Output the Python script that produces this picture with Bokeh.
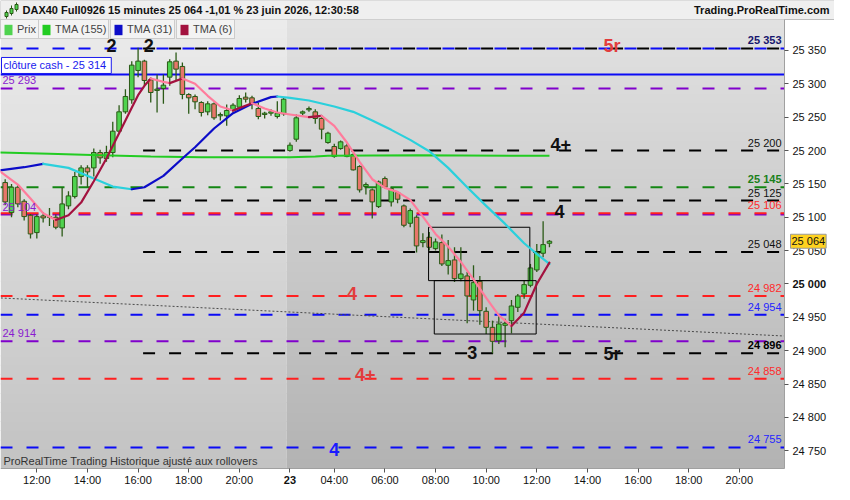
import numpy as np
from bokeh.plotting import figure
from bokeh.models import (ColumnDataSource, Range1d, FixedTicker, Label, Legend,
                          LegendItem, BoxAnnotation, LinearAxis)
from bokeh.core.properties import value
from bokeh.embed import file_html
from bokeh.resources import INLINE

#textes de l'entete et du bas
titre = "DAX40 Full0926 15 minutes 25 064 -1,01 % 23 juin 2026, 12:30:58"
site = "Trading.ProRealTime.com"
note_bas = "ProRealTime Trading  Historique ajusté aux rollovers"
legende_noms = ["Prix", "TMA (155)", "TMA (31)", "TMA (6)"]

#bougies 15 minutes, indice 0 = 22 juin 12:00
barres = list(range(-5, 82))
ouv = [25152, 25107, 25145, 25124, 25103, 25077, 25102, 25101, 25100, 25084,
       25117, 25131, 25161, 25174, 25174, 25197, 25188, 25197, 25229, 25258,
       25276, 25320, 25334, 25306, 25290, 25293, 25310, 25334, 25326, 25284,
       25281, 25272, 25258, 25270, 25252, 25252, 25260, 25265, 25280, 25279,
       25263, 25254, 25256, 25251, 25255, 25200, 25217, 25256, 25261, 25258,
       25248, 25212, 25206, 25203, 25207, 25194, 25176, 25146, 25141, 25116,
       25158, 25123, 25137, 25117, 25091, 25100, 25062, 25070, 25053, 25062,
       25028, 25036, 25008, 25012, 24976, 25004, 24959, 24935, 24915, 24938,
       24945, 24965, 24985, 24998, 25021, 25046, 25061]
haut = [25157, 25150, 25148, 25127, 25105, 25104, 25108, 25114, 25104, 25145,
        25139, 25168, 25178, 25178, 25203, 25201, 25207, 25243, 25268, 25292,
        25334, 25354, 25336, 25309, 25314, 25314, 25337, 25347, 25332, 25286,
        25284, 25274, 25274, 25272, 25257, 25269, 25271, 25283, 25287, 25282,
        25272, 25258, 25262, 25274, 25279, 25212, 25254, 25260, 25266, 25262,
        25250, 25228, 25210, 25215, 25210, 25196, 25178, 25152, 25143, 25155,
        25161, 25145, 25139, 25119, 25113, 25103, 25076, 25078, 25068, 25074,
        25066, 25055, 25055, 25018, 25028, 25012, 24965, 24945, 24954, 24948,
        24976, 24985, 25005, 25030, 25060, 25094, 25066]
bas = [25118, 25100, 25115, 25095, 25068, 25068, 25092, 25087, 25082, 25071,
       25112, 25128, 25149, 25145, 25161, 25180, 25183, 25190, 25226, 25255,
       25270, 25310, 25298, 25272, 25257, 25270, 25297, 25305, 25277, 25255,
       25262, 25251, 25253, 25246, 25245, 25237, 25257, 25262, 25272, 25262,
       25247, 25248, 25252, 25248, 25252, 25198, 25213, 25253, 25258, 25240,
       25217, 25210, 25189, 25201, 25190, 25170, 25137, 25134, 25098, 25114,
       25143, 25116, 25121, 25085, 25085, 25047, 25055, 25050, 25050, 25027,
       25014, 25003, 25004, 24941, 24960, 24939, 24925, 24896, 24910, 24905,
       24926, 24958, 24978, 24995, 25018, 25040, 25055]
clot = [25123, 25145, 25120, 25101, 25075, 25101, 25099, 25100, 25085, 25120,
        25132, 25161, 25174, 25168, 25197, 25189, 25197, 25229, 25258, 25281,
        25328, 25334, 25305, 25287, 25292, 25298, 25333, 25322, 25284, 25279,
        25273, 25257, 25270, 25249, 25254, 25260, 25268, 25278, 25277, 25270,
        25251, 25256, 25258, 25256, 25277, 25208, 25249, 25258, 25263, 25248,
        25232, 25226, 25191, 25213, 25191, 25171, 25141, 25149, 25123, 25153,
        25145, 25143, 25127, 25088, 25110, 25057, 25065, 25055, 25063, 25030,
        25035, 25008, 25015, 24982, 25002, 24960, 24935, 24914, 24940, 24941,
        24967, 24982, 24999, 25024, 25047, 25059, 25064]

#axe du temps (seance du 23 a partir de l'indice 40)
ticks_barres = [0, 8, 16, 24, 32, 40, 47, 55, 63, 71, 79, 87, 95, 103, 111]
ticks_textes = ["12:00", "14:00", "16:00", "18:00", "20:00", "23", "04:00", "06:00",
                "08:00", "10:00", "12:00", "14:00", "16:00", "18:00", "20:00"]
separation_jour = 39.5
ticks_prix = [24750, 24800, 24850, 24900, 24950, 25000, 25050, 25100, 25150,
              25200, 25250, 25300, 25350]
prix_actuel = 25064

#moyennes mobiles
tma155_x = [-6, 2, 10, 18, 26, 40, 44, 46, 60, 81]
tma155_y = [25197, 25195, 25193, 25191, 25190, 25190, 25191, 25192, 25193, 25192]
tma31_x = [-6, -2, 1, 5, 9, 12, 15, 17, 20, 23, 25, 28, 31, 34, 37, 38, 40, 43, 47,
           50, 53, 56, 59, 62, 65, 68, 71, 74, 77, 79, 81]
tma31_y = [25170, 25175, 25180, 25174, 25158, 25146, 25142, 25145, 25162, 25188,
           25205, 25233, 25256, 25270, 25280, 25281, 25279, 25275, 25266, 25258,
           25245, 25231, 25216, 25199, 25174, 25145, 25117, 25090, 25061, 25045, 25030]
tma6_x = [-6, -3, -1, 1, 3, 5, 7, 9, 11, 13, 15, 16, 17, 18, 20, 21, 23, 25, 27, 29,
          31, 34, 36, 38, 40, 43, 45, 47, 49, 51, 53, 55, 57, 59, 61, 63, 65, 67, 69,
          71, 73, 75, 77, 79, 81]
tma6_y = [25170, 25149, 25128, 25106, 25096, 25103, 25122, 25154, 25188, 25226,
          25264, 25283, 25297, 25308, 25303, 25301, 25308, 25300, 25282, 25266,
          25260, 25271, 25263, 25257, 25254, 25250, 25252, 25237, 25212, 25183,
          25157, 25144, 25138, 25126, 25101, 25075, 25056, 25033, 25007, 24979,
          24953, 24937, 24957, 25000, 25032]

#niveaux horizontaux
niveaux_pleins = [25353, 25293, 25145, 25104, 25106, 24982, 24954, 24914, 24858, 24755]
couleurs_pleins = ["#0b0bf5", "#8000cc", "#138613", "#8000cc", "#ff1f1f", "#ff1f1f",
                   "#0b0bf5", "#8000cc", "#ff1f1f", "#0b0bf5"]
niveaux_noirs = [25353, 25200, 25125, 25048, 24896]
debut_noirs = 16
cloture_cash = 25314

etiq_droite = ["25 353", "25 200", "25 145", "25 125", "25 106", "25 048",
               "24 982", "24 954", "24 896", "24 858", "24 755"]
prix_droite = [25353, 25200, 25145, 25125, 25106, 25048, 24982, 24954, 24896, 24858, 24755]
coul_droite = ["#16166e", "#111111", "#1a801a", "#111111", "#ff2a2a", "#111111",
               "#ff2a2a", "#2424ff", "#000000", "#ff2a2a", "#2424ff"]
gras_droite = [True, False, True, False, False, False, False, False, True, False, False]
etiq_gauche = ["25 293", "25 104", "24 914"]
prix_gauche = [25293, 25104, 24914]

#reperes de vagues
vagues_txt = ["2", "2", "5r", "4+", "4", "4", "3", "5r", "4+", "4"]
vagues_x = [11.8, 17.7, 90.9, 82.8, 82.6, 49.8, 68.8, 90.9, 51.9, 47.0]
vagues_y = [25358, 25358, 25357, 25209, 25109, 24985, 24898, 24895, 24864, 24752]
vagues_coul = ["#111111", "#111111", "#e23c3c", "#111111", "#111111", "#e23c3c",
               "#111111", "#111111", "#e23c3c", "#1a1aff"]

#rectangles et ligne de tendance
rect_gauche = [61.9, 62.8]
rect_droite = [77.9, 78.9]
rect_bas = [25005, 24925]
rect_haut = [25085, 25005]
tendance_x = [-5.7, 118.1]
tendance_y = [24979, 24922]

#mise en page (pixels) : entete, zone des cours, axe du bas, axe de droite
FONT = "Liberation Sans"
W, H = 834, 484
H_ENTETE, H_AXE_BAS, W_AXE = 19, 16, 50
PW, PH = W - W_AXE, H - H_ENTETE - H_AXE_BAS
x_debut, x_fin = -5.74, 118.14
y_bas, y_haut = 24723.4, 25396.4
px_x = PW / (x_fin - x_debut)
px_y = PH / (y_haut - y_bas)

#une seule figure qui couvre tout, les axes sont poses a l'interieur
p = figure(width=W, height=H, output_backend="svg", toolbar_location=None,
           x_range=Range1d(x_debut, x_debut + W / px_x),
           y_range=Range1d(y_bas - H_AXE_BAS / px_y, y_haut + H_ENTETE / px_y),
           x_axis_location=None, y_axis_location=None, min_border=0)
p.title.visible = False
p.outline_line_color = None
p.background_fill_color = "white"
p.border_fill_color = "white"
p.grid.visible = False

#petite boite en unites ecran (depuis le bas de la figure)
def boite(x0, x1, y0, y1, couleur, contour=None):
    p.add_layout(BoxAnnotation(left=x0, right=x1, bottom=H - y1, top=H - y0,
                               left_units="screen", right_units="screen",
                               bottom_units="screen", top_units="screen",
                               fill_color=couleur, fill_alpha=1,
                               line_color=contour, line_alpha=1 if contour else 0,
                               line_width=1))

#bandeau d'entete
p.add_layout(BoxAnnotation(bottom=y_haut, fill_color="#efefef", fill_alpha=1,
                           line_color="#bdbdbd", line_alpha=1, line_width=1, level="underlay"))
for cx, m0, m1, c0, c1 in [(6, 10, 18, 12, 16), (11, 5, 15, 8, 13), (16, 2, 11, 4, 9)]:
    boite(cx - 0.5, cx + 0.5, m0, m1, "#2b5a17")
    boite(cx - 1.5, cx + 1.5, c0, c1, "#4fd34f", "#2b5a17")
p.add_layout(Label(x=22, y=H - H_ENTETE / 2, x_units="screen", y_units="screen", text=titre,
                   text_baseline="middle", text_font=FONT, text_font_style="bold",
                   text_font_size="11px", text_color="#111111"))
p.add_layout(Label(x=W - 5, y=H - H_ENTETE / 2, x_units="screen", y_units="screen", text=site,
                   text_align="right", text_baseline="middle", text_font=FONT,
                   text_font_style="bold", text_font_size="11px", text_color="#111111"))

#fond en degrade, plus clair pour la seance du 22
n = 48
h = (y_haut - y_bas) / n
for k in range(n):
    t = (k + 0.5) / n
    g1 = int(195 + (236 - 195) * t)
    g2 = int(179 + (226 - 179) * t)
    b0 = y_bas + k * h
    b1 = min(b0 + h * 1.08, y_haut)
    p.add_layout(BoxAnnotation(left=x_debut, right=separation_jour, bottom=b0, top=b1,
                               fill_color="#%02x%02x%02x" % (g1, g1, g1), fill_alpha=1,
                               line_alpha=0, level="underlay"))
    p.add_layout(BoxAnnotation(left=separation_jour, right=x_fin, bottom=b0, top=b1,
                               fill_color="#%02x%02x%02x" % (g2, g2, g2), fill_alpha=1,
                               line_alpha=0, level="underlay"))

#niveaux en pointilles
nb = len(niveaux_pleins)
p.segment(x0=[x_debut] * nb, y0=niveaux_pleins, x1=[x_fin] * nb, y1=niveaux_pleins,
          line_color=couleurs_pleins, line_width=2, line_dash="12 14")
p.segment(x0=[x_debut], y0=[cloture_cash], x1=[x_fin], y1=[cloture_cash],
          line_color="#0b0bf5", line_width=2)
px0 = (debut_noirs - x_debut) * px_x
decal = int(round((26 - (13 - px0) % 26) % 26))
nn = len(niveaux_noirs)
p.segment(x0=[debut_noirs] * nn, y0=niveaux_noirs, x1=[x_fin] * nn, y1=niveaux_noirs,
          line_color="black", line_width=2, line_dash="12 14", line_dash_offset=decal)

#ligne de tendance
p.line(tendance_x, tendance_y, line_color="#4a4a4a", line_width=1, line_dash="2 2")

#bougies
src = ColumnDataSource(dict(
    x=barres, o=ouv, h=haut, l=bas, c=clot,
    corps_haut=[max(a, b) for a, b in zip(ouv, clot)],
    corps_bas=[min(a, b) for a, b in zip(ouv, clot)],
    couleur=["#4fd34f" if b >= a else "#e8766a" for a, b in zip(ouv, clot)]))
p.segment(x0="x", y0="l", x1="x", y1="h", source=src, line_color="#2b5a17", line_width=1.3)
p.vbar(x="x", width=0.72, top="corps_haut", bottom="corps_bas", source=src,
       fill_color="couleur", line_color="#2b5a17", line_width=1)

#rectangles
p.quad(left=rect_gauche, right=rect_droite, bottom=rect_bas, top=rect_haut,
       fill_alpha=0, line_color="black", line_width=1)

#moyennes mobiles, couleur selon la pente
def troncons(xs, ys, c_hausse, c_baisse):
    lx, ly, lc = [], [], []
    for k in range(len(xs) - 1):
        c = c_hausse if ys[k + 1] >= ys[k] else c_baisse
        if lc and lc[-1] == c:
            lx[-1].append(xs[k + 1])
            ly[-1].append(ys[k + 1])
        else:
            lx.append([xs[k], xs[k + 1]])
            ly.append([ys[k], ys[k + 1]])
            lc.append(c)
    return lx, ly, lc

p.line(tma155_x, tma155_y, line_color="#22cc22", line_width=2)
lx, ly, lc = troncons(tma31_x, tma31_y, "#0c0cc8", "#2ad0dc")
p.multi_line(lx, ly, line_color=lc, line_width=2.2, line_join="round", line_cap="round")
lx, ly, lc = troncons(tma6_x, tma6_y, "#a3123f", "#ff7c9c")
p.multi_line(lx, ly, line_color=lc, line_width=2.2, line_join="round", line_cap="round")

#reperes de vagues
p.text(x=vagues_x, y=vagues_y, text=vagues_txt, text_color=vagues_coul,
       text_font=value(FONT), text_font_style="bold", text_font_size="18px",
       text_align="center", text_baseline="middle")

#etiquettes des niveaux
for txt, prix, coul, gras in zip(etiq_droite, prix_droite, coul_droite, gras_droite):
    p.add_layout(Label(x=x_fin, x_offset=-3, y=prix, y_offset=2, text=txt,
                       text_align="right", text_baseline="bottom", text_font=FONT,
                       text_font_size="11px", text_color=coul,
                       text_font_style="bold" if gras else "normal"))
for txt, prix in zip(etiq_gauche, prix_gauche):
    p.add_layout(Label(x=x_debut, x_offset=2, y=prix, y_offset=2, text=txt,
                       text_baseline="bottom", text_font=FONT, text_font_size="11px",
                       text_color="#8a1ad0"))
p.add_layout(Label(x=x_debut, x_offset=1, y=cloture_cash, y_offset=1,
                   text="clôture cash -  25 314", text_baseline="bottom", text_font=FONT,
                   text_font_size="11px", text_color="#1a1aee", background_fill_color="white",
                   border_line_color="#1a1aee", border_line_width=1, padding=2))
p.add_layout(Label(x=x_debut, x_offset=3, y=y_bas, y_offset=2, text=note_bas,
                   text_baseline="bottom", text_font=FONT, text_font_size="11px",
                   text_color="#333333"))

#axes de la librairie, fixes au bord de la zone des cours
axe_x = LinearAxis(fixed_location=y_bas, bounds=(x_debut, x_fin),
                   ticker=FixedTicker(ticks=ticks_barres),
                   major_label_overrides={b: ("" if t == "23" else t)
                                          for b, t in zip(ticks_barres, ticks_textes)})
axe_y = LinearAxis(fixed_location=x_fin, bounds=(y_bas, y_haut),
                   ticker=FixedTicker(ticks=ticks_prix),
                   major_label_overrides={v: ("" if v == 25000 else f"{v:,}".replace(",", " "))
                                          for v in ticks_prix})
for ax in (axe_x, axe_y):
    ax.major_label_text_font = FONT
    ax.major_label_text_font_size = "11px"
    ax.major_label_text_color = "#111111"
    ax.major_tick_out = 4
    ax.major_tick_in = 0
    ax.minor_tick_line_color = None
    ax.axis_line_color = "#a0a0a0"
    ax.major_tick_line_color = "#555555"
axe_x.major_label_standoff = 1
axe_y.major_label_standoff = 4
p.add_layout(axe_x, "below")
p.add_layout(axe_y, "right")

#libelles en gras et prix courant
for b, t in zip(ticks_barres, ticks_textes):
    if t == "23":
        p.add_layout(Label(x=b, y=y_bas, y_offset=-11, text=t, text_align="center",
                           text_baseline="middle", text_font=FONT, text_font_size="11px",
                           text_font_style="bold", text_color="#111111"))
p.add_layout(Label(x=x_fin, x_offset=8, y=25000, text="25 000", text_baseline="middle",
                   text_font=FONT, text_font_size="11px", text_font_style="bold",
                   text_color="#111111"))
p.add_layout(Label(x=x_fin, x_offset=6, y=prix_actuel,
                   text=f"{prix_actuel:,}".replace(",", " "), text_baseline="middle",
                   text_font=FONT, text_font_size="11px", text_color="#111111",
                   background_fill_color="#ffd21f", border_line_color="#9a9a9a", padding=1))

#legendes separees, une boite par serie, icone en deux couleurs
vide = np.array([np.nan])
icones = [p.quad(left=vide, right=vide, top=vide, bottom=vide, fill_color=c, line_color=None)
          for c in ["#4fd34f", "#22cc22", "#0c0cc8", "#a3123f"]]
moities = ["#e8766a", "#22cc22", "#2ad0dc", "#ff7c9c"]
for nom, ic, x, m in zip(legende_noms, icones, [0, 38, 110, 176], moities):
    p.add_layout(Legend(items=[LegendItem(label=nom, renderers=[ic])],
                        location=(x, H - H_ENTETE - 20), orientation="horizontal",
                        padding=2, margin=0, spacing=0, glyph_width=10, glyph_height=13,
                        label_height=14, label_standoff=4, label_text_font=FONT,
                        label_text_font_size="11px", background_fill_color="#f3f3f3",
                        background_fill_alpha=1, border_line_color="#a6a6a6",
                        border_line_width=1))
    boite(x + 7, x + 12, H_ENTETE + 4, H_ENTETE + 17, m)

open("out.html", "w").write(file_html(p, INLINE))
